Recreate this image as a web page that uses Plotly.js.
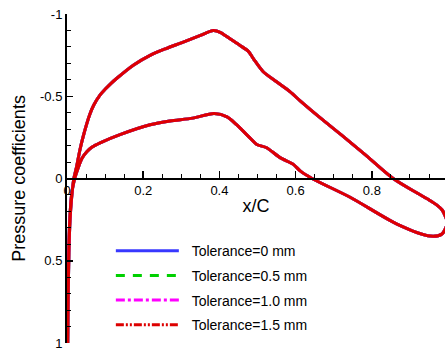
<!DOCTYPE html>
<html>
<head>
<meta charset="utf-8">
<script src="https://cdn.plot.ly/plotly-3.0.1.min.js"></script>
<style>html,body{margin:0;padding:0;background:#fff}#chart{width:445px;height:351px}</style>
</head>
<body>
<div id="chart"></div>
<script>
// Chordwise position x/C: upper surface from trailing edge to leading edge, then lower surface back to trailing edge
const xc = [0.998, 0.993, 0.984, 0.97, 0.95, 0.92, 0.856, 0.78, 0.72, 0.664, 0.612, 0.585, 0.55, 0.515, 0.489, 0.476, 0.454, 0.428, 0.402, 0.384, 0.35, 0.305, 0.26, 0.218, 0.174, 0.13, 0.115, 0.1, 0.087, 0.07, 0.06, 0.043, 0.034, 0.025, 0.018, 0.012, 0.008, 0.005, 0.003, 0.002,
            0.003, 0.005, 0.008, 0.012, 0.018, 0.025, 0.039, 0.052, 0.065, 0.087, 0.139, 0.218, 0.27, 0.33, 0.386, 0.42, 0.445, 0.48, 0.498, 0.524, 0.559, 0.594, 0.612, 0.643, 0.743, 0.866, 0.953, 0.984, 0.998];
// Pressure coefficient for each tolerance
const cpTol0 = [0.27, 0.23, 0.19, 0.16, 0.13, 0.09, 0.0, -0.15, -0.265, -0.37, -0.472, -0.528, -0.588, -0.649, -0.729, -0.773, -0.809, -0.849, -0.889, -0.899, -0.87, -0.829, -0.79, -0.749, -0.689, -0.608, -0.577, -0.542, -0.508, -0.445, -0.39, -0.26, -0.175, -0.07, 0.0, 0.12, 0.25, 0.45, 0.75, 1.0,
                0.7, 0.4, 0.22, 0.1, 0.02, -0.036, -0.122, -0.163, -0.19, -0.217, -0.267, -0.327, -0.35, -0.367, -0.395, -0.375, -0.327, -0.247, -0.207, -0.187, -0.127, -0.086, -0.046, 0.0, 0.114, 0.277, 0.35, 0.337, 0.27];
const cpTol05 = [0.27, 0.23, 0.19, 0.16, 0.13, 0.09, 0.0, -0.15, -0.265, -0.37, -0.472, -0.528, -0.588, -0.649, -0.729, -0.773, -0.809, -0.849, -0.889, -0.9, -0.87, -0.829, -0.79, -0.749, -0.689, -0.608, -0.577, -0.542, -0.508, -0.445, -0.39, -0.26, -0.175, -0.07, 0.0, 0.12, 0.25, 0.45, 0.75, 1.0,
                0.7, 0.4, 0.22, 0.1, 0.02, -0.036, -0.122, -0.163, -0.19, -0.217, -0.267, -0.327, -0.35, -0.367, -0.395, -0.375, -0.327, -0.247, -0.207, -0.187, -0.127, -0.086, -0.046, 0.0, 0.114, 0.277, 0.35, 0.337, 0.27];
const cpTol10 = [0.27, 0.23, 0.19, 0.16, 0.13, 0.09, 0.0, -0.15, -0.265, -0.37, -0.472, -0.528, -0.588, -0.649, -0.729, -0.773, -0.809, -0.849, -0.889, -0.899, -0.87, -0.829, -0.79, -0.749, -0.689, -0.608, -0.577, -0.542, -0.508, -0.445, -0.39, -0.26, -0.175, -0.07, 0.0, 0.12, 0.25, 0.45, 0.75, 1.0,
                0.7, 0.4, 0.22, 0.1, 0.02, -0.036, -0.122, -0.163, -0.19, -0.217, -0.267, -0.327, -0.35, -0.367, -0.395, -0.375, -0.327, -0.247, -0.207, -0.187, -0.127, -0.086, -0.046, 0.0, 0.114, 0.277, 0.35, 0.337, 0.27];
const cpTol15 = [0.27, 0.23, 0.19, 0.16, 0.13, 0.09, 0.0, -0.15, -0.265, -0.37, -0.472, -0.528, -0.588, -0.649, -0.729, -0.773, -0.809, -0.849, -0.889, -0.899, -0.87, -0.829, -0.79, -0.749, -0.689, -0.608, -0.577, -0.542, -0.508, -0.445, -0.39, -0.26, -0.175, -0.07, 0.0, 0.12, 0.25, 0.45, 0.75, 1.0,
                0.7, 0.4, 0.22, 0.1, 0.02, -0.036, -0.122, -0.163, -0.19, -0.217, -0.267, -0.327, -0.35, -0.367, -0.395, -0.375, -0.327, -0.247, -0.207, -0.187, -0.127, -0.086, -0.046, 0.0, 0.114, 0.277, 0.35, 0.337, 0.27];

const seriesNames = ["Tolerance=0 mm", "Tolerance=0.5 mm", "Tolerance=1.0 mm", "Tolerance=1.5 mm"];
const seriesValues = [cpTol0, cpTol05, cpTol10, cpTol15];
const yTickVals = [-1, -0.5, 0, 0.5, 1];
const yTickText = ["-1", "-0.5", "0", "0.5", "1"];
const xTickVals = [0, 0.2, 0.4, 0.6, 0.8];
const xTickText = ["0", "0.2", "0.4", "0.6", "0.8"];

const colors = ["#3838ff", "#00d000", "#ff00ff", "#dd0000"];
const dashes = ["solid", "9px,8px", "9px,3px,3px,3px", "8px,2px,2px,2px,2px,2px"];

const traces = [];
for (let i = 0; i < 4; i++) {
  traces.push({
    x: xc, y: seriesValues[i], type: "scatter", mode: "lines",
    line: {color: colors[i], width: 3, shape: "spline", smoothing: 0.8},
    showlegend: false, hoverinfo: "skip"
  });
}
for (let i = 0; i < 4; i++) {
  traces.push({
    x: [null], y: [null], type: "scatter", mode: "lines", name: "\u00a0\u00a0" + seriesNames[i],
    legendgroup: "g" + i,
    line: {color: colors[i], width: 3, dash: dashes[i]}
  });
}

const font = "Liberation Sans, Arial, sans-serif";
const layout = {
  width: 445, height: 351,
  margin: {l: 67, r: 0, t: 14, b: 8, pad: 0},
  paper_bgcolor: "#fff", plot_bgcolor: "#fff",
  font: {family: font, color: "#000", size: 13},
  showlegend: true,
  legend: {x: 0.116, y: 0.328, xanchor: "left", yanchor: "top", bgcolor: "rgba(0,0,0,0)",
           font: {family: font, size: 14, color: "#000"}, itemwidth: 63, tracegroupgap: 3.5,
           traceorder: "grouped"},
  xaxis: {
    range: [0, 0.992], anchor: "free", position: 0.5,
    showline: true, linecolor: "#000", linewidth: 2, zeroline: false, showgrid: false,
    tickmode: "array", tickvals: xTickVals, ticktext: xTickText,
    ticks: "inside", ticklen: 7, tickwidth: 1.5, tickcolor: "#000",
    minor: {dtick: 0.05, ticks: "inside", ticklen: 4, tickwidth: 1, tickcolor: "#000", showgrid: false},
    tickfont: {family: font, size: 13, color: "#000"}, ticklabeloverflow: "allow",
    title: {text: "x/C", font: {family: font, size: 18, color: "#000"}, standoff: 1}
  },
  yaxis: {
    range: [1, -1],
    showline: true, linecolor: "#000", linewidth: 2, zeroline: false, showgrid: false,
    tickmode: "array", tickvals: yTickVals, ticktext: yTickText,
    ticks: "inside", ticklen: 6, tickwidth: 1.5, tickcolor: "#000",
    minor: {dtick: 0.1, ticks: "inside", ticklen: 4, tickwidth: 1, tickcolor: "#000", showgrid: false},
    tickfont: {family: font, size: 13, color: "#000"}, ticklabeloverflow: "allow",
    title: {text: "Pressure coefficients", font: {family: font, size: 18, color: "#000"}, standoff: 10}
  }
};
Plotly.newPlot("chart", traces, layout, {displayModeBar: false, staticPlot: true});
</script>
</body>
</html>
